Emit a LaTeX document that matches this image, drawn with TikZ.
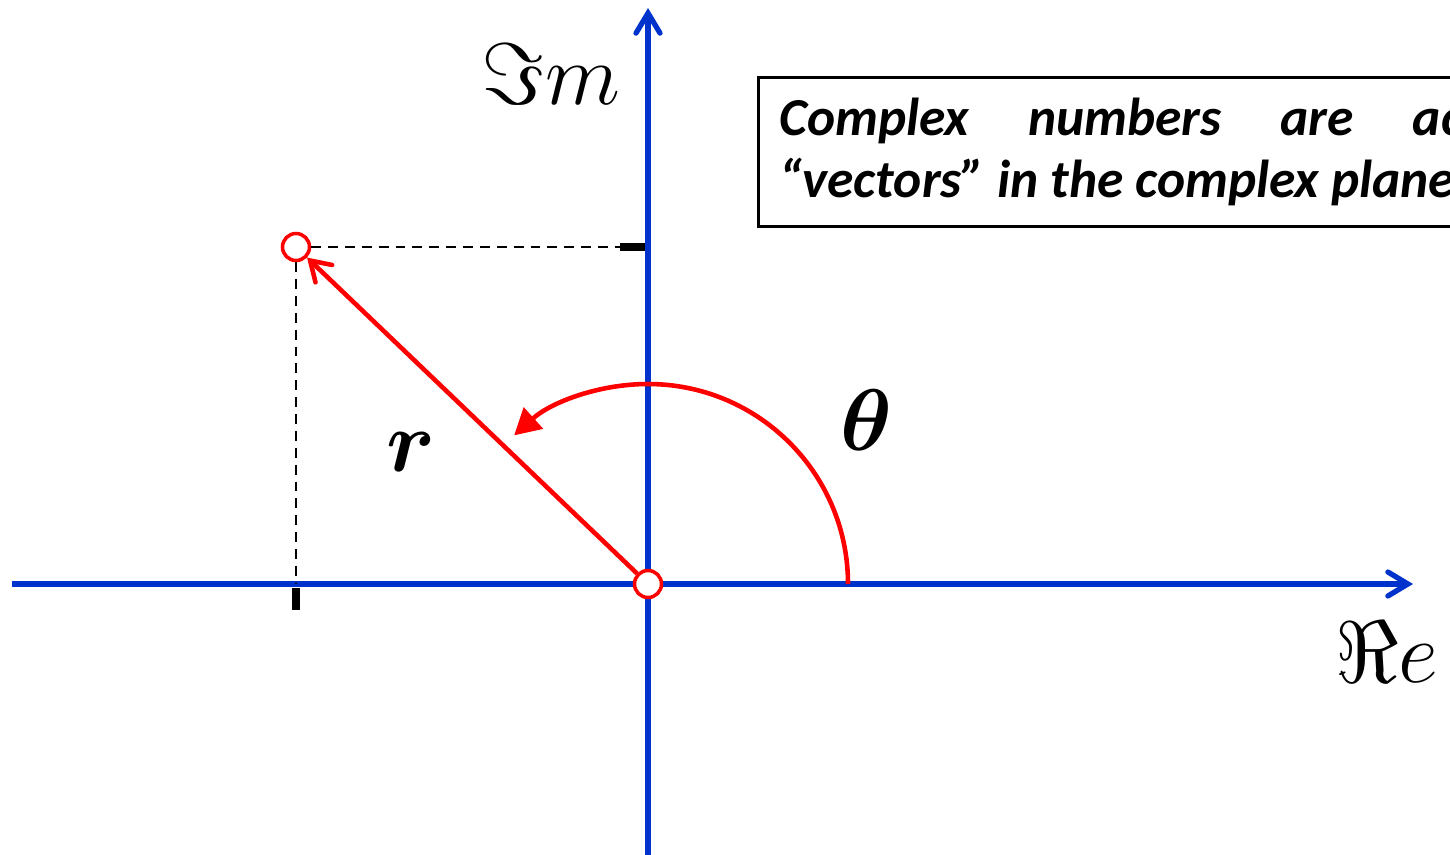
\documentclass[tikz,border=0pt]{standalone}
\usepackage{fontspec}
\usepackage{amsmath,bm}
\usetikzlibrary{positioning, arrows.meta, calc}
\newfontfamily\notefont{Carlito}
\definecolor{axisc}{HTML}{0033CC}
\definecolor{vecc}{HTML}{FF0000}
\definecolor{ink}{HTML}{000000}

\begin{document}
\begin{tikzpicture}[
  axis/.style={-{Straight Barb[length=2mm, width=2.4mm, line cap=round]}, line width=1.5pt, draw=axisc},
  vec/.style={-{Straight Barb[length=1.9mm, width=2.4mm, line cap=round]}, line width=1.3pt, draw=vecc},
  turn/.style={-{Triangle[length=2.6mm, width=2.8mm]}, line width=1.3pt, draw=vecc},
  dot/.style={circle, draw=vecc, fill=white, line width=1pt, minimum size=2.7mm, inner sep=0pt},
  guide/.style={ink, line width=0.45pt, dash pattern=on 2.8pt off 2pt},
  tick/.style={ink, line width=2pt},
  lbl/.style={inner sep=0pt, text=ink},
  note/.style={draw=ink, line width=0.8pt, anchor=north west, inner sep=0pt, inner xsep=2.1mm,
               minimum height=14.9mm, align=left, font=\notefont\bfseries\itshape\fontsize{15.2}{17.6}\selectfont},
]
\path[use as bounding box, clip] (-6.48,-2.70) rectangle (8.02,5.84);

% ---------------- axes ----------------
\coordinate (xl) at (-6.36,0);
\coordinate (xr) at (7.65,0);
\coordinate (yb) at (0,-2.80);
\coordinate (yt) at (0,5.76);
\draw[axis] (xl) -- (xr);
\draw[axis] (yb) -- (yt);

% ---------------- origin and point ----------------
\node[dot] (O) at (0,0) {};
\node[dot] (P) at (-3.52,3.37) {};
\draw[vec] (O) -- (P);

% projections onto the axes
\coordinate (ytick) at (-0.28,3.37);
\draw[guide] (P) -- (ytick);
\draw[guide] (P) -- (P |- O);
\draw[tick] (ytick) -- ++(0.25,0);
\draw[tick] ($(P |- O)+(0,-0.04)$) -- ++(0,-0.22);

% ---------------- angle ----------------
\draw[turn] ($(O)+(2,0)$) arc[start angle=0, end angle=132, radius=2];

% ---------------- labels ----------------
\node[lbl] (imlab) at (-0.97,5.10) {\fontsize{23}{27}\selectfont$\Im m$};
\node[lbl] (relab) at (7.39,-0.68) {\fontsize{24}{28}\selectfont$\Re e$};
\node[lbl] (thlab) at (2.18,1.64) {\fontsize{23}{27}\selectfont$\bm{\theta}$};
\node[lbl] (rlab) at (-2.37,1.32) {\fontsize{26}{30}\selectfont$\bm{r}$};

% ---------------- note (runs off the right edge) ----------------
\node[note] (note) at (1.09,5.08) {%
  \hbox to 8.1cm{Complex\hfil numbers\hfil are\hfil actually}\\[0pt]
  “vectors” in the complex plane};

\end{tikzpicture}
\end{document}
